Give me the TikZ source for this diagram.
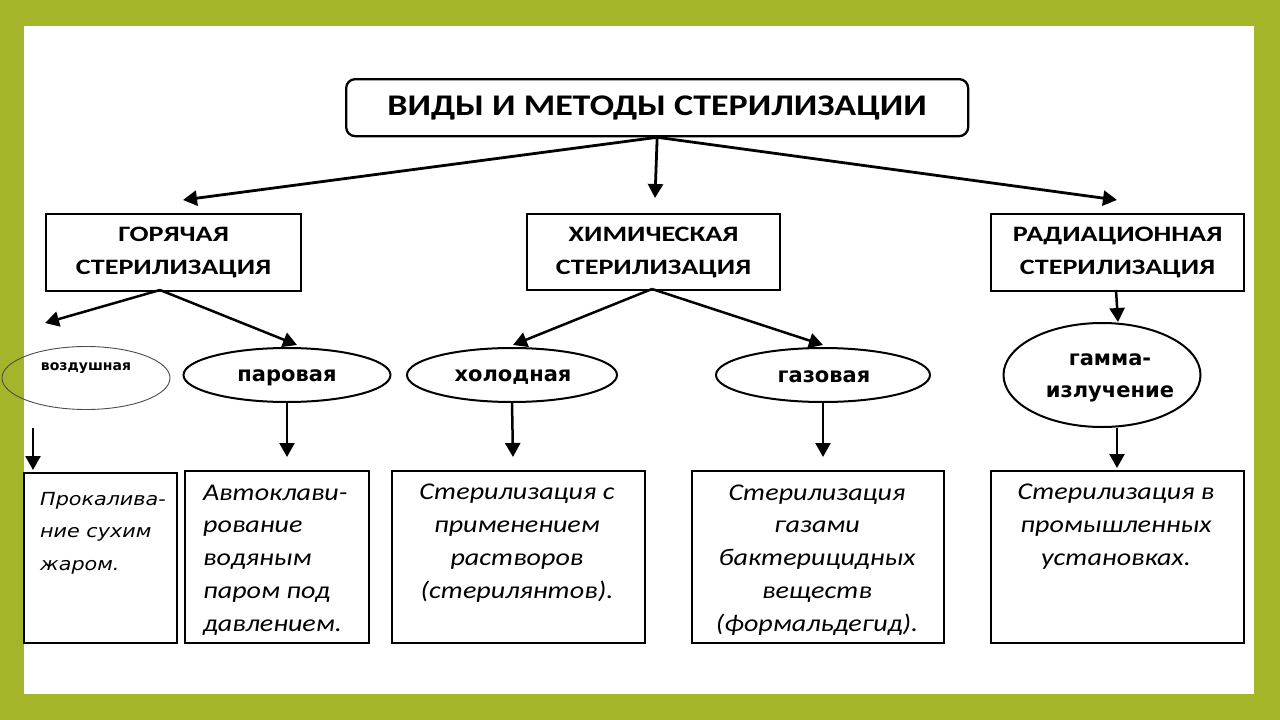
\documentclass[tikz,border=0pt]{standalone}
\usepackage{fontspec}
\newfontfamily\hdfont[FakeStretch=1.28]{Carlito}
\newfontfamily\ttlfont[FakeStretch=1.2]{Carlito}
\newfontfamily\bdfont[FakeStretch=1.17]{Carlito}
\newfontfamily\elfont{DejaVu Sans}
\newfontfamily\smfont[FakeStretch=1.15]{DejaVu Sans}
\usetikzlibrary{arrows.meta,shapes.geometric}
\definecolor{olive}{HTML}{A5B52A}
\begin{document}
\begin{tikzpicture}[x=1pt,y=-1pt,
  frame/.style={draw=black,line width=2.3pt,anchor=north west,inner sep=0pt},
  ell/.style={draw=black,line width=2pt,ellipse,inner sep=0pt},
  arr/.style={line width=2.8pt,-{Triangle[length=14pt,width=15pt]}},
  sarr/.style={arr,line width=2.5pt},
  hd/.style={font=\hdfont\bfseries\fontsize{22}{33}\selectfont,align=center},
  eltxt/.style={font=\elfont\bfseries\fontsize{21}{32}\selectfont,align=center},
  bodytxt/.style={font=\bdfont\itshape\fontsize{24}{32.7}\selectfont,anchor=base,inner sep=0pt},
]
\fill[olive] (0,0) rectangle (1280,720);
\fill[white] (24,26) rectangle (1254,694);
\useasboundingbox (0,0) rectangle (1280,720);

% title
\node[frame,rounded corners=9pt,minimum width=622pt,minimum height=57pt] (title) at (345,78) {};
\node[font=\ttlfont\bfseries\fontsize{30}{34}\selectfont] (titletxt) at (title.center) {ВИДЫ И МЕТОДЫ СТЕРИЛИЗАЦИИ};

% level 2 boxes
\node[frame,minimum width=255pt,minimum height=77pt] (hot) at (45,213) {};
\node[hd] (hottxt) at (hot.center) {ГОРЯЧАЯ\\СТЕРИЛИЗАЦИЯ};
\node[frame,minimum width=253pt,minimum height=76pt] (chem) at (526,213) {};
\node[hd] (chemtxt) at (chem.center) {ХИМИЧЕСКАЯ\\СТЕРИЛИЗАЦИЯ};
\node[frame,minimum width=253pt,minimum height=77pt] (rad) at (990,213) {};
\node[hd] (radtxt) at (rad.center) {РАДИАЦИОННАЯ\\СТЕРИЛИЗАЦИЯ};

\coordinate (c1) at (183,200);
\coordinate (c2) at (655,198);
\coordinate (c3) at (1117,200);
\draw[arr] (title.south) -- (c1);
\draw[arr] (title.south) -- (c2);
\draw[arr] (title.south) -- (c3);

% ellipses
\node[draw=black!70,line width=0.9pt,ellipse,inner sep=0pt,minimum width=168pt,minimum height=63pt] (air) at (86,378) {};
\node[font=\elfont\bfseries\fontsize{14}{16}\selectfont] (airtxt) at (86,368) {воздушная};
\node[ell,minimum width=207pt,minimum height=54pt] (steam) at (287,375) {};
\node[eltxt] (steamtxt) at (287,378) {паровая};
\node[ell,minimum width=210pt,minimum height=54pt] (cold) at (512,375) {};
\node[eltxt] (coldtxt) at (513,377) {холодная};
\node[ell,minimum width=214pt,minimum height=54pt] (gas) at (823,375) {};
\node[eltxt] (gastxt) at (824,377) {газовая};
\node[ell,minimum width=197pt,minimum height=104pt] (gamma) at (1102,375) {};
\node[eltxt] (gammatxt) at (1110,378) {гамма-\\излучение};

\coordinate (h1) at (45,323);
\coordinate (h2) at (297,345);
\draw[sarr] (160,290) -- (h1);
\draw[sarr] (160,290) -- (h2);
\coordinate (k1) at (513,345);
\coordinate (k2) at (823,345);
\draw[sarr] (652,289) -- (k1);
\draw[sarr] (652,289) -- (k2);
\draw[sarr] (1116,290) -- (gamma.north -| 1118,0);

% bottom boxes
\node[frame,line width=2pt,minimum width=153pt,minimum height=170pt] (b1) at (23,472) {};
\node[frame,minimum width=184pt,minimum height=172pt] (b2) at (184,470) {};
\node[frame,minimum width=253pt,minimum height=172pt] (b3) at (391,470) {};
\node[frame,minimum width=252pt,minimum height=172pt] (b4) at (691,470) {};
\node[frame,minimum width=253pt,minimum height=172pt] (b5) at (990,470) {};

\coordinate (a0) at (33,428);
\coordinate (a1) at (33,470);
\draw[sarr] (a0) -- (a1);
\coordinate (p1) at (287,457);
\draw[sarr] (steam.south) -- (p1);
\coordinate (p2) at (513,457);
\draw[sarr] (cold.south) -- (p2);
\coordinate (p3) at (823,457);
\draw[sarr] (gas.south) -- (p3);
\draw[sarr] (gamma.south -| 1117,0) -- (1117,468);

% texts (base anchor = baseline of the last line)
\node[font=\smfont\itshape\fontsize{18}{32.5}\selectfont,align=left,anchor=base west,inner sep=0pt] (t1) at (40,570) {Прокалива-\\ние сухим\\жаром.};
\node[bodytxt,align=left,anchor=base west] (t2) at (203,631) {Автоклави-\\рование\\водяным\\паром под\\давлением.};
\node[bodytxt,align=center] (t3) at (517,598) {Стерилизация с\\применением\\растворов\\(стерилянтов).};
\node[bodytxt,align=center] (t4) at (817,631) {Стерилизация\\газами\\бактерицидных\\веществ\\(формальдегид).};
\node[bodytxt,align=center] (t5) at (1116,565) {Стерилизация в\\промышленных\\установках.};
\end{tikzpicture}
\end{document}
